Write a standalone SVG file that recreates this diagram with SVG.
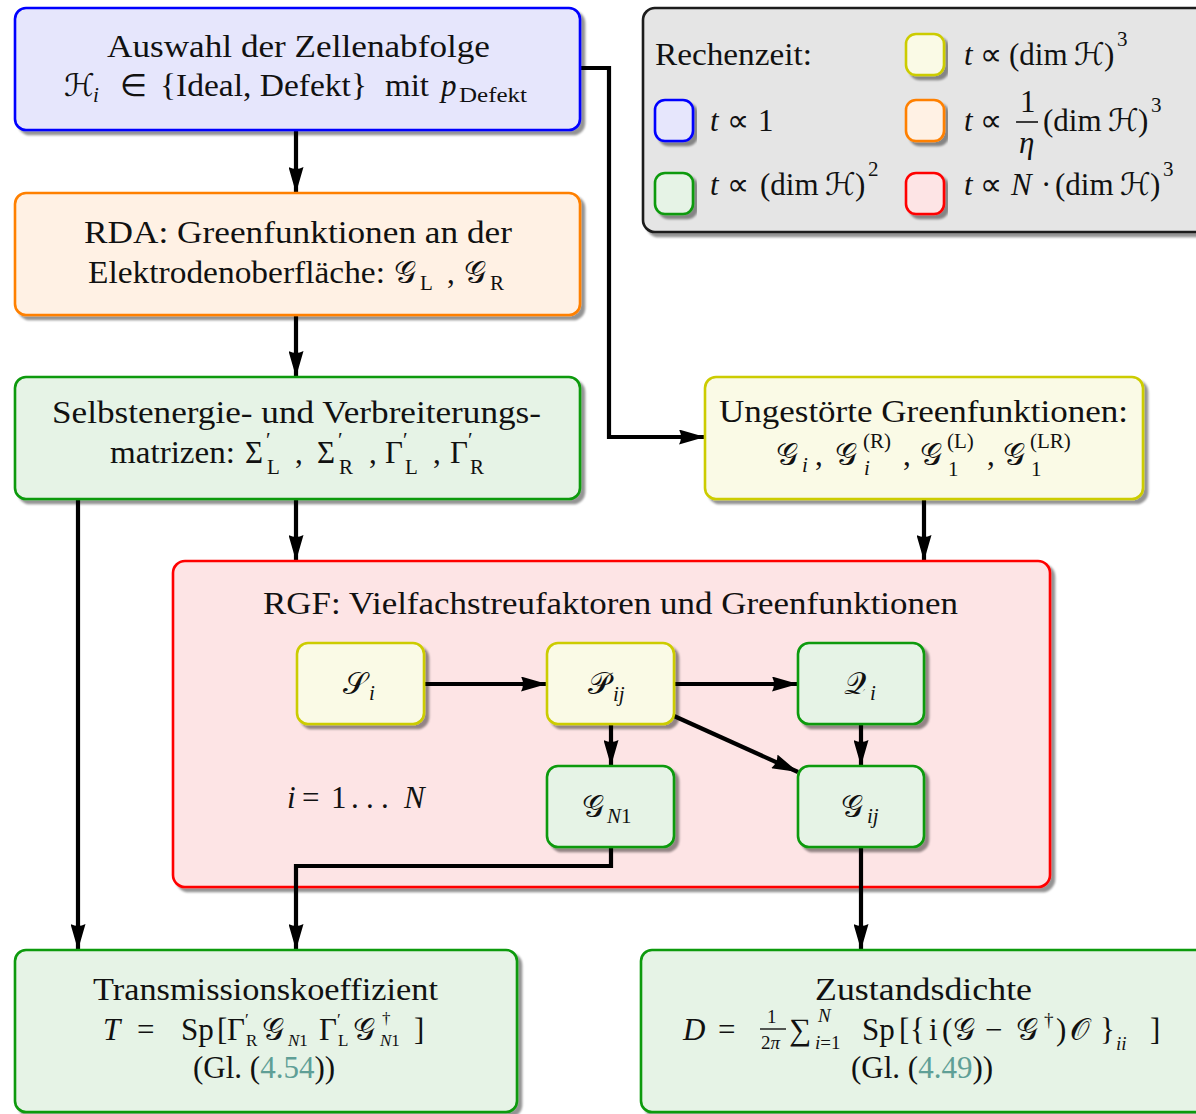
<svg xmlns="http://www.w3.org/2000/svg" width="1196" height="1114" viewBox="0 0 1196 1114">
<defs>
<style>
.tx{font-family:"Liberation Serif","Times New Roman",serif;font-size:31px;fill:#111}
.it{font-style:italic}
.sb{font-size:21px}
.sm{font-size:19px}
.ss{font-size:17px}
.cal{font-family:"DejaVu Serif","DejaVu Sans","Liberation Serif",serif;font-style:normal}
.lnk{fill:#5f9f96}
.box{stroke-width:2.6}
.blue{fill:#e6e6fc;stroke:#0000ff}
.orange{fill:#fff1e4;stroke:#ff8000}
.green{fill:#e6f3e6;stroke:#0a9a0a}
.yellow{fill:#fafae6;stroke:#cccc00}
.red{fill:#fde4e5;stroke:#ff0000}
.legend{fill:#e5e5e5;stroke:#1a1a1a;stroke-width:2.6}
.con{fill:none;stroke:#000;stroke-width:4.2}
</style>
<filter id="sh" x="-5%" y="-5%" width="115%" height="125%">
<feDropShadow dx="4" dy="4" stdDeviation="1.3" flood-color="#000" flood-opacity="0.42"/>
</filter>
<marker id="ah" markerUnits="userSpaceOnUse" markerWidth="26" markerHeight="15" refX="26" refY="7.5" orient="auto">
<path d="M0,0 L26,7.5 L0,15 Q4,7.5 0,0 Z" fill="#000"/>
</marker>
</defs>
<rect width="1196" height="1114" fill="#fff"/>

<!-- legend -->
<g id="legend">
<rect class="legend" x="643" y="8" width="580" height="224" rx="12" filter="url(#sh)"/>
<text class="tx" x="655" y="65" textLength="157" lengthAdjust="spacingAndGlyphs">Rechenzeit:</text>
<rect class="box yellow" x="906" y="34" width="38" height="41" rx="10" filter="url(#sh)"/>
<rect class="box blue" x="655" y="100" width="38" height="41" rx="10" filter="url(#sh)"/>
<rect class="box orange" x="906" y="100" width="38" height="41" rx="10" filter="url(#sh)"/>
<rect class="box green" x="655" y="173" width="38" height="41" rx="10" filter="url(#sh)"/>
<rect class="box red" x="906" y="173" width="38" height="41" rx="10" filter="url(#sh)"/>
<text class="tx" y="65"><tspan class="it" x="964">t</tspan><tspan x="980">∝</tspan><tspan x="1009">(dim</tspan><tspan class="cal" x="1074">ℋ</tspan><tspan x="1104">)</tspan><tspan class="sb" x="1117" y="46">3</tspan></text>
<text class="tx" y="131"><tspan class="it" x="710">t</tspan><tspan x="727">∝</tspan><tspan x="758">1</tspan></text>
<text class="tx" y="131"><tspan class="it" x="964">t</tspan><tspan x="980">∝</tspan><tspan x="1020" y="112">1</tspan><tspan class="it" x="1019" y="153">η</tspan><tspan x="1043" y="131">(dim</tspan><tspan class="cal" x="1108">ℋ</tspan><tspan x="1138">)</tspan><tspan class="sb" x="1151" y="112">3</tspan></text>
<line x1="1016" y1="122" x2="1038" y2="122" stroke="#111" stroke-width="1.6"/>
<text class="tx" y="195"><tspan class="it" x="710">t</tspan><tspan x="727">∝</tspan><tspan x="760">(dim</tspan><tspan class="cal" x="825">ℋ</tspan><tspan x="855">)</tspan><tspan class="sb" x="868" y="176">2</tspan></text>
<text class="tx" y="195"><tspan class="it" x="964">t</tspan><tspan x="980">∝</tspan><tspan class="it" x="1011">N</tspan><tspan x="1041">·</tspan><tspan x="1055">(dim</tspan><tspan class="cal" x="1120">ℋ</tspan><tspan x="1150">)</tspan><tspan class="sb" x="1163" y="176">3</tspan></text>
</g>

<!-- connectors -->
<g id="connectors">
<path class="con" d="M296,130 V193" marker-end="url(#ah)"/>
<path class="con" d="M580,68 H609 V437 H705" marker-end="url(#ah)"/>
<path class="con" d="M296,315 V377" marker-end="url(#ah)"/>
<path class="con" d="M296,499 V561" marker-end="url(#ah)"/>
<path class="con" d="M924,499 V561" marker-end="url(#ah)"/>
<path class="con" d="M78,499 V950" marker-end="url(#ah)"/>
</g>

<g id="top">
<rect class="box blue" x="15" y="8" width="565" height="122" rx="11" filter="url(#sh)"/>
<text class="tx" x="107" y="57" textLength="383" lengthAdjust="spacingAndGlyphs">Auswahl der Zellenabfolge</text>
<text class="tx" y="96"><tspan class="cal" x="64">ℋ</tspan><tspan class="it sb" x="93" y="102">i</tspan><tspan x="120" y="96">∈</tspan></text>
<text class="tx" x="160" y="96" textLength="207" lengthAdjust="spacingAndGlyphs">{Ideal, Defekt}</text>
<text class="tx" x="385" y="96" textLength="44" lengthAdjust="spacingAndGlyphs">mit</text>
<text class="tx" y="96"><tspan class="it" x="441">p</tspan></text>
<text class="tx sb" x="459" y="102" textLength="68" lengthAdjust="spacingAndGlyphs">Defekt</text>
</g>

<g id="rda">
<rect class="box orange" x="15" y="193" width="565" height="122" rx="11" filter="url(#sh)"/>
<text class="tx" x="84" y="243" textLength="428" lengthAdjust="spacingAndGlyphs">RDA: Greenfunktionen an der</text>
<text class="tx" x="88" y="283" textLength="297" lengthAdjust="spacingAndGlyphs">Elektrodenoberfläche:</text>
<text class="tx" y="283"><tspan class="cal" x="394">𝒢</tspan><tspan class="sb" x="420" y="290">L</tspan><tspan x="447" y="283">,</tspan><tspan class="cal" x="464">𝒢</tspan><tspan class="sb" x="490" y="290">R</tspan></text>
</g>

<g id="selbst">
<rect class="box green" x="15" y="377" width="565" height="122" rx="11" filter="url(#sh)"/>
<text class="tx" x="52" y="423" textLength="489" lengthAdjust="spacingAndGlyphs">Selbstenergie- und Verbreiterungs-</text>
<text class="tx" x="110" y="463" textLength="125" lengthAdjust="spacingAndGlyphs">matrizen:</text>
<text class="tx" y="463"><tspan x="245">Σ</tspan><tspan class="sb" x="266" y="447">′</tspan><tspan class="sb" x="267" y="474">L</tspan><tspan x="295" y="463">,</tspan><tspan x="317">Σ</tspan><tspan class="sb" x="338" y="447">′</tspan><tspan class="sb" x="339" y="474">R</tspan><tspan x="369" y="463">,</tspan><tspan x="385">Γ</tspan><tspan class="sb" x="403" y="447">′</tspan><tspan class="sb" x="405" y="474">L</tspan><tspan x="433" y="463">,</tspan><tspan x="450">Γ</tspan><tspan class="sb" x="468" y="447">′</tspan><tspan class="sb" x="470" y="474">R</tspan></text>
</g>

<g id="ungestoert">
<rect class="box yellow" x="705" y="377" width="438" height="122" rx="11" filter="url(#sh)"/>
<text class="tx" x="719" y="422" textLength="409" lengthAdjust="spacingAndGlyphs">Ungestörte Greenfunktionen:</text>
<text class="tx" y="465"><tspan class="cal" x="776">𝒢</tspan><tspan class="it sb" x="802" y="472">i</tspan><tspan x="815" y="465">,</tspan><tspan class="cal" x="835">𝒢</tspan><tspan class="sb" x="863" y="448">(R)</tspan><tspan class="it sb" x="864" y="475">i</tspan><tspan x="903" y="465">,</tspan><tspan class="cal" x="920">𝒢</tspan><tspan class="sb" x="947" y="448">(L)</tspan><tspan class="sb" x="948" y="476">1</tspan><tspan x="987" y="465">,</tspan><tspan class="cal" x="1003">𝒢</tspan><tspan class="sb" x="1030" y="448">(LR)</tspan><tspan class="sb" x="1031" y="476">1</tspan></text>
</g>

<g id="rgf">
<rect class="box red" x="173" y="561" width="877" height="326" rx="12" filter="url(#sh)"/>
<text class="tx" x="263" y="614" textLength="695" lengthAdjust="spacingAndGlyphs">RGF: Vielfachstreufaktoren und Greenfunktionen</text>
<text class="tx" y="808"><tspan class="it" x="287">i</tspan><tspan x="302">=</tspan><tspan x="331">1</tspan><tspan x="351">.</tspan><tspan x="366">.</tspan><tspan x="381">.</tspan><tspan class="it" x="404">N</tspan></text>
</g>

<g id="inner-connectors">
<path class="con" d="M424,684 H547" marker-end="url(#ah)"/>
<path class="con" d="M674,684 H798" marker-end="url(#ah)"/>
<path class="con" d="M611,724 V766" marker-end="url(#ah)"/>
<path class="con" d="M861,724 V766" marker-end="url(#ah)"/>
<path class="con" d="M674,716 L798,772" marker-end="url(#ah)"/>
<path class="con" d="M611,847 V866 H296 V950" marker-end="url(#ah)"/>
<path class="con" d="M861,847 V950" marker-end="url(#ah)"/>
</g>

<g id="S">
<rect class="box yellow" x="297" y="643" width="127" height="81" rx="11" filter="url(#sh)"/>
<text class="tx" y="694"><tspan class="cal" x="343">𝒮</tspan><tspan class="it sb" x="369" y="700">i</tspan></text>
</g>
<g id="P">
<rect class="box yellow" x="547" y="643" width="127" height="81" rx="11" filter="url(#sh)"/>
<text class="tx" y="694"><tspan class="cal" x="588">𝒫</tspan><tspan class="it sb" x="613" y="701">ij</tspan></text>
</g>
<g id="Q">
<rect class="box green" x="798" y="643" width="126" height="81" rx="11" filter="url(#sh)"/>
<text class="tx" y="694"><tspan class="cal" x="844">𝒬</tspan><tspan class="it sb" x="870" y="700">i</tspan></text>
</g>
<g id="GN1">
<rect class="box green" x="547" y="766" width="127" height="81" rx="11" filter="url(#sh)"/>
<text class="tx" y="817"><tspan class="cal" x="582">𝒢</tspan><tspan class="it sb" x="607" y="823">N</tspan><tspan class="sb">1</tspan></text>
</g>
<g id="Gij">
<rect class="box green" x="798" y="766" width="126" height="81" rx="11" filter="url(#sh)"/>
<text class="tx" y="817"><tspan class="cal" x="841">𝒢</tspan><tspan class="it sb" x="867" y="823">ij</tspan></text>
</g>

<g id="trans">
<rect class="box green" x="15" y="950" width="502" height="162" rx="11" filter="url(#sh)"/>
<text class="tx" x="93" y="1000" textLength="345" lengthAdjust="spacingAndGlyphs">Transmissionskoeffizient</text>
<text class="tx" y="1040"><tspan class="it" x="103">T</tspan><tspan x="137">=</tspan><tspan x="181">Sp</tspan><tspan x="217">[</tspan><tspan x="227">Γ</tspan><tspan class="ss" x="245" y="1025">′</tspan><tspan class="ss" x="246" y="1046">R</tspan><tspan class="cal" x="262" y="1040">𝒢</tspan><tspan class="it ss" x="288" y="1046">N</tspan><tspan class="ss">1</tspan><tspan x="319" y="1040">Γ</tspan><tspan class="ss" x="337" y="1025">′</tspan><tspan class="ss" x="338" y="1046">L</tspan><tspan class="cal" x="353" y="1040">𝒢</tspan><tspan class="ss" x="382" y="1024">†</tspan><tspan class="it ss" x="380" y="1046">N</tspan><tspan class="ss">1</tspan><tspan x="414" y="1040">]</tspan></text>
<text class="tx" x="193" y="1078">(Gl. (<tspan class="lnk">4.54</tspan>))</text>
</g>

<g id="zustand">
<rect class="box green" x="641" y="950" width="580" height="162" rx="11" filter="url(#sh)"/>
<text class="tx" x="815" y="1000" textLength="217" lengthAdjust="spacingAndGlyphs">Zustandsdichte</text>
<text class="tx" y="1040"><tspan class="it" x="683">D</tspan><tspan x="718">=</tspan><tspan class="sm" x="767" y="1023">1</tspan><tspan class="sm" x="761" y="1049">2</tspan><tspan class="sm it">π</tspan><tspan x="789" y="1040">∑</tspan><tspan class="sm it" x="818" y="1022">N</tspan><tspan class="sm it" x="815" y="1049">i</tspan><tspan class="sm">=1</tspan><tspan x="862" y="1040">Sp</tspan><tspan x="899">[</tspan><tspan x="910">{</tspan><tspan x="929">i</tspan><tspan x="942">(</tspan><tspan class="cal" x="953">𝒢</tspan><tspan x="985">−</tspan><tspan class="cal" x="1016">𝒢</tspan><tspan class="sm" x="1044" y="1026">†</tspan><tspan x="1056" y="1040">)</tspan><tspan class="cal" x="1070">𝒪</tspan><tspan x="1100">}</tspan><tspan class="sm it" x="1116" y="1050">ii</tspan><tspan x="1150" y="1040">]</tspan></text>
<line x1="760" y1="1029" x2="786" y2="1029" stroke="#111" stroke-width="1.4"/>
<text class="tx" x="851" y="1078">(Gl. (<tspan class="lnk">4.49</tspan>))</text>
</g>
</svg>
